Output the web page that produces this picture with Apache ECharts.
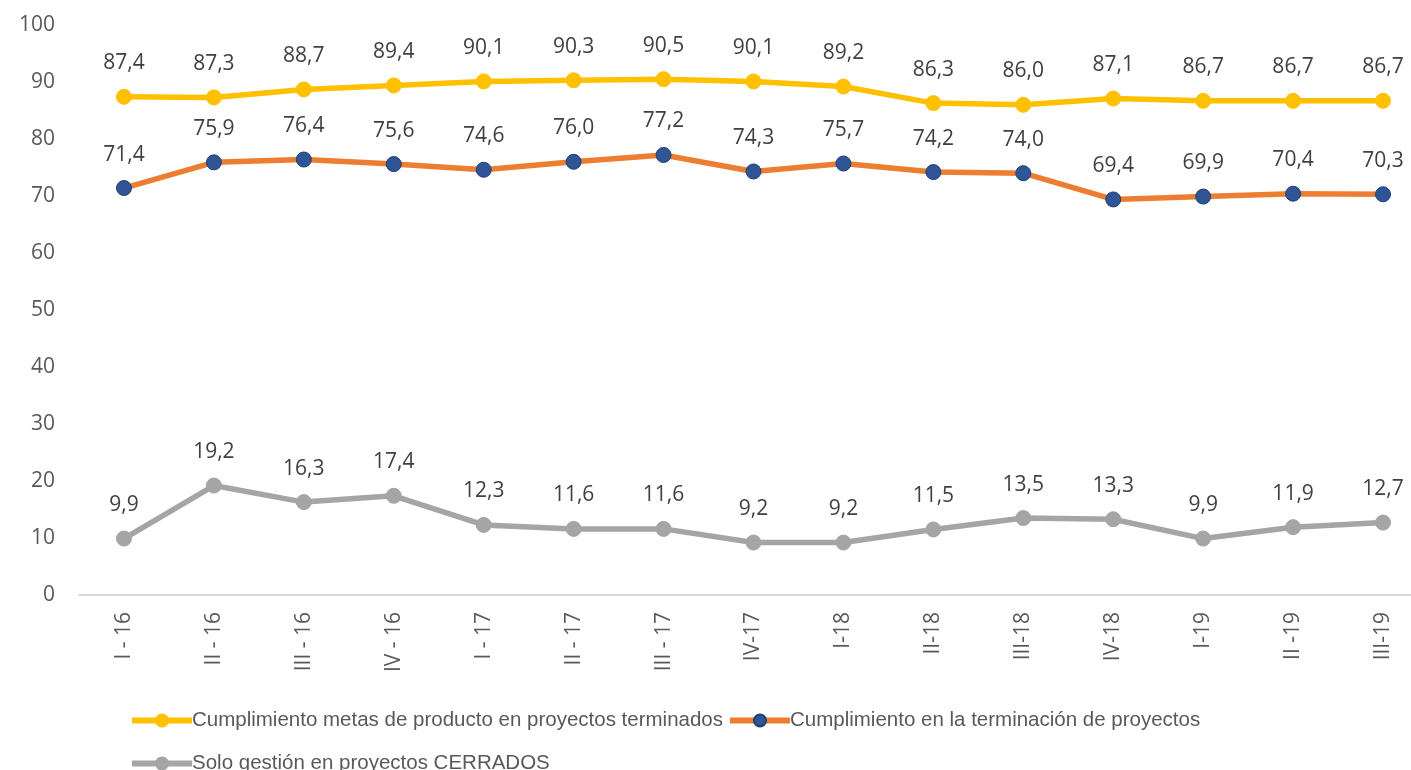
<!DOCTYPE html>
<html>
<head>
<meta charset="utf-8">
<script src="https://cdn.jsdelivr.net/npm/echarts@6/dist/echarts.min.js"></script>
<style>
	html, body { margin: 0; padding: 0; background: #fff; }
	#chart { width: 1411px; height: 770px; }
</style>
</head>
<body>
<div id="chart"></div>
<script>
	//类别
	var categories = ["I - 16", "II - 16", "III - 16", "IV - 16", "I - 17", "II - 17", "III - 17", "IV-17", "I-18", "II-18", "III-18", "IV-18", "I-19", "II -19", "III-19"];
	//系列名称
	var seriesNames = [
		"Cumplimiento metas de producto en proyectos terminados",
		"Cumplimiento en la terminación de proyectos",
		"Solo gestión en proyectos CERRADOS"
	];
	//数据
	var metasProducto = [87.4, 87.3, 88.7, 89.4, 90.1, 90.3, 90.5, 90.1, 89.2, 86.3, 86.0, 87.1, 86.7, 86.7, 86.7];
	var terminacion = [71.4, 75.9, 76.4, 75.6, 74.6, 76.0, 77.2, 74.3, 75.7, 74.2, 74.0, 69.4, 69.9, 70.4, 70.3];
	var soloGestion = [9.9, 19.2, 16.3, 17.4, 12.3, 11.6, 11.6, 9.2, 9.2, 11.5, 13.5, 13.3, 9.9, 11.9, 12.7];

	var chart = echarts.init(document.getElementById("chart"));

	function fmt(p) {
		return p.value.toFixed(1).replace(".", ",");
	}

	function makeSeries(name, data, lineColor, dotColor, dotBorder) {
		return {
			name: name,
			type: "line",
			data: data,
			symbol: "circle",
			symbolSize: 15,
			lineStyle: { color: lineColor, width: 5.5 },
			itemStyle: { color: dotColor, borderColor: dotBorder, borderWidth: 1 },
			label: {
				show: true,
				position: "top",
				distance: 15,
				formatter: fmt,
				color: "#404040",
				fontSize: 21,
				fontFamily: "Open Sans"
			},
			emphasis: { disabled: true },
			z: 3
		};
	}

	//图例公共样式
	var legendBase = {
		left: 124,
		itemGap: 4,
		itemWidth: 60,
		itemHeight: 15,
		lineStyle: { width: 6 },
		textStyle: { color: "#595959", fontSize: 20.5, fontFamily: "Liberation Sans", padding: [0, 0, 0, -5] }
	};

	var option = {
		animation: false,
		backgroundColor: "#ffffff",
		grid: {
			left: 79,
			top: 25,
			width: 1349,
			bottom: 175,
			containLabel: false,
			outerBoundsMode: "none"
		},
		legend: [
			Object.assign({}, legendBase, { top: 705, data: [seriesNames[0], seriesNames[1]] }),
			Object.assign({}, legendBase, { top: 748, data: [seriesNames[2]] })
		],
		xAxis: {
			type: "category",
			data: categories,
			boundaryGap: true,
			axisLine: { lineStyle: { color: "#d9d9d9", width: 2 } },
			axisTick: { show: false },
			axisLabel: {
				rotate: 90,
				color: "#595959",
				fontSize: 21,
				fontFamily: "Open Sans",
				margin: 17,
				interval: 0
			},
			splitLine: { show: false }
		},
		yAxis: {
			type: "value",
			min: 0,
			max: 100,
			interval: 10,
			axisLine: { show: false },
			axisTick: { show: false },
			splitLine: { show: false },
			axisLabel: {
				color: "#595959",
				fontSize: 21,
				fontFamily: "Open Sans",
				margin: 24
			}
		},
		series: [
			makeSeries(seriesNames[0], metasProducto, "#FFC000", "#FFC000", "#FFC000"),
			makeSeries(seriesNames[1], terminacion, "#ED7D31", "#2F5597", "#1F3F70"),
			makeSeries(seriesNames[2], soloGestion, "#A5A5A5", "#A5A5A5", "#A5A5A5")
		]
	};
	chart.setOption(option);
</script>
</body>
</html>
